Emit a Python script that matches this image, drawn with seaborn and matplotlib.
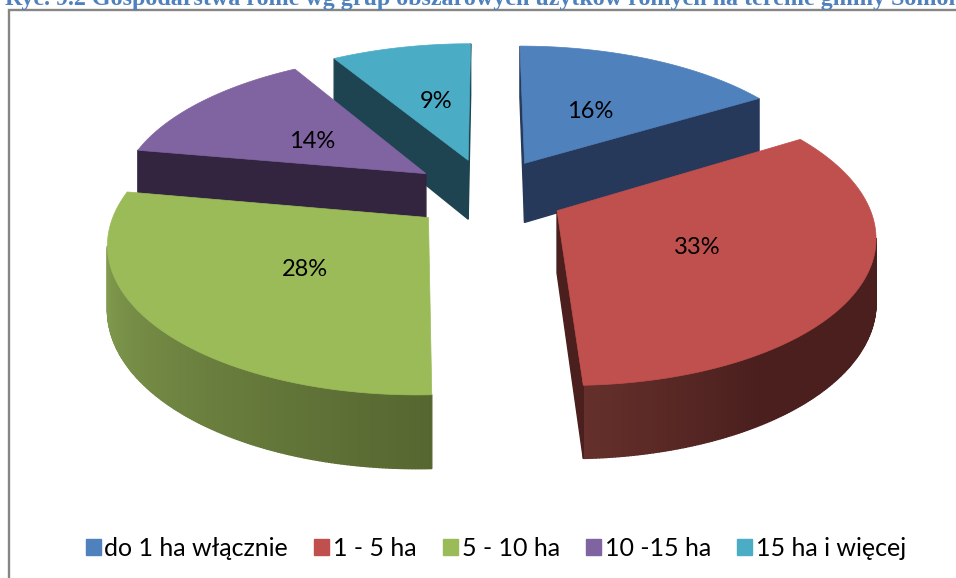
import numpy as np
import seaborn as sns
import matplotlib.pyplot as plt
from matplotlib.patches import Polygon, Patch

# values from the chart (labels show them rounded)
labels = ['do 1 ha włącznie', '1 - 5 ha', '5 - 10 ha', '10 -15 ha', '15 ha i więcej']
shares = [16.3, 33.1, 28.4, 13.6, 8.6]
title = 'Ryc. 9.2 Gospodarstwa rolne wg grup obszarowych użytków rolnych na terenie gminy Somonino'

top_colors = ['#4F81BD', '#C0504D', '#9BBB59', '#8064A2', '#4BACC6']
# outer wall colour stops along the arc of each slice
wall_colors = [['#26395A', '#26395A'], ['#4A1F1E', '#4A1F1E', '#4A1F1E', '#4A1F1E', '#65302B'],
               ['#566630', '#8CA956'], ['#33243F', '#33243F'], ['#1D4450', '#1D4450']]
cut_colors = ['#26395A', '#4A1F1E', '#566630', '#33243F', '#1D4450']
draw_order = [4, 0, 3, 2, 1]
label_pos = [(590, 112), (697, 247), (305, 269), (312, 141), (436, 102)]

sns.set_theme(style='white')

# perspective of the tilted pie, in pixels
cx, cy = 488, 193.5
rx, ry = 308, 143
persp = 0.149
explode = 0.25
depth = 61


def project(u, v):
    s = 1 / (1 + persp * v)
    return cx + rx * u * s, cy - ry * v * s, depth * s


def wedge_outline(a0, a1):
    mid = np.radians((a0 + a1) / 2)
    du, dv = explode * np.sin(mid), explode * np.cos(mid)
    t = np.radians(np.linspace(a0, a1, max(int(a1 - a0) * 2, 2)))
    x, y, h = project(np.r_[0, np.sin(t)] + du, np.r_[0, np.cos(t)] + dv)
    return x, y, h


fig, ax = plt.subplots(figsize=(9.56, 5.78), dpi=100)
ax.set_position([0, 0, 1, 1])
ax.set_xlim(0, 956)
ax.set_ylim(578, 0)
ax.axis('off')

edges = np.cumsum([0] + shares) / sum(shares) * 360

for i in draw_order:
    x, y, h = wedge_outline(edges[i], edges[i + 1])
    n = len(x)
    shades = sns.blend_palette(wall_colors[i], n)
    # walls facing the viewer: outline runs clockwise, so those go right to left
    for j in range(n):
        k = (j + 1) % n
        if x[k] < x[j]:
            quad = [(x[j], y[j]), (x[k], y[k]), (x[k], y[k] + h[k]), (x[j], y[j] + h[j])]
            # straight cut faces are flat, the arc gets the gradient
            c = shades[j] if 0 < j and k > 0 else cut_colors[i]
            ax.add_patch(Polygon(quad, closed=True, fc=c, ec=c, lw=1.0))
    ax.add_patch(Polygon(np.c_[x, y], closed=True, fc=top_colors[i], ec=top_colors[i], lw=0.5))

for (lx, ly), s in zip(label_pos, shares):
    ax.text(lx, ly, f'{s:.0f}%', ha='center', va='center', fontsize=17, family='Lato', color='black')

# chart frame, only top and left are in the crop
ax.plot([9, 9, 956], [578, 10, 10], color='#868686', lw=1.7, solid_joinstyle='miter')

fig.text(5 / 956, 1 - 5.5 / 578, title, family='Liberation Serif', weight='bold', fontsize=17.3,
         color='#4F81BD', ha='left', va='baseline')

handles = [Patch(fc=c, ec=c, label=l) for c, l in zip(top_colors, labels)]
ax.legend(handles=handles, ncol=5, frameon=False, loc='center', bbox_to_anchor=(496 / 956, 1 - 548 / 578),
          prop={'family': 'Lato', 'size': 18}, handlelength=0.6, handleheight=0.6, handletextpad=0.15,
          columnspacing=1.05, labelcolor='black')

plt.savefig('out.png', dpi=100)
